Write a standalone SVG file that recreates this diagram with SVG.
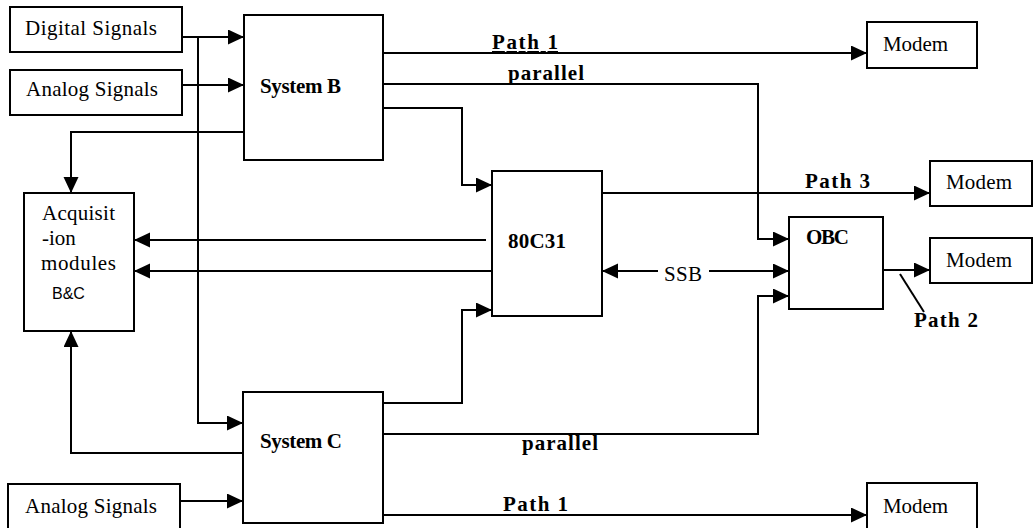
<svg xmlns="http://www.w3.org/2000/svg" width="1034" height="528" viewBox="0 0 1034 528">
<defs>
<style>
.box{fill:#fff;stroke:#000;stroke-width:2}
.ln{fill:none;stroke:#000;stroke-width:2}
.arr{marker-end:url(#ah)}
.t{font-family:"Liberation Serif","Times New Roman",serif;font-size:21px;fill:#000}
.b{font-weight:bold}
.s{font-family:"Liberation Sans",Arial,sans-serif;font-size:16px;fill:#000}
</style>
<marker id="ah" markerUnits="userSpaceOnUse" markerWidth="17" markerHeight="16" refX="16" refY="7.5" orient="auto">
<path d="M0,0 L16,7.5 L0,15 z" fill="#000"/>
</marker>
</defs>
<rect width="1034" height="528" fill="#fff"/>
<g id="connectors">
<path class="ln arr" d="M182,37 H244"/>
<path class="ln arr" d="M198,37 V423 H243"/>
<path class="ln arr" d="M182,85 H244"/>
<path class="ln arr" d="M244,132 H71 V193"/>
<path class="ln arr" d="M243,453 H71 V331"/>
<path class="ln arr" d="M486,240 H134"/>
<path class="ln arr" d="M492,271 H134"/>
<path class="ln arr" d="M383,108 H462 V185 H492"/>
<path class="ln arr" d="M383,403 H462 V310 H492"/>
<path class="ln arr" d="M383,53 H867"/>
<path class="ln arr" d="M383,84 H758 V239 H789"/>
<path class="ln arr" d="M383,434 H758 V296 H789"/>
<path class="ln arr" d="M602,193 H930"/>
<path class="ln arr" d="M658,271 H602"/>
<path class="ln arr" d="M709,271 H789"/>
<path class="ln arr" d="M883,270 H930"/>
<path class="ln" d="M900,274 L924,312"/>
<path class="ln arr" d="M383,515 H867"/>
<path class="ln arr" d="M180,501 H243"/>
<text class="t b" x="492" y="49" textLength="66" style="text-decoration:underline">Path 1</text>
<text class="t b" x="508" y="80" textLength="76">parallel</text>
<text class="t b" x="805" y="188" textLength="65">Path 3</text>
<text class="t" x="664" y="281" textLength="38">SSB</text>
<text class="t b" x="914" y="327" textLength="64">Path 2</text>
<text class="t b" x="522" y="450" textLength="76">parallel</text>
<text class="t b" x="503" y="511" textLength="65">Path 1</text>
</g>
<g id="digital-signals">
<rect class="box" x="10" y="7" width="172" height="45"/>
<text class="t" x="25" y="35" textLength="132">Digital Signals</text>
</g>
<g id="analog-signals-top">
<rect class="box" x="10" y="70" width="172" height="45"/>
<text class="t" x="26" y="96" textLength="132">Analog Signals</text>
</g>
<g id="system-b">
<rect class="box" x="244" y="15" width="139" height="145"/>
<text class="t b" x="260" y="93" textLength="81">System B</text>
</g>
<g id="acquisition">
<rect class="box" x="24" y="193" width="110" height="138"/>
<text class="t" x="42" y="220" textLength="73">Acquisit</text>
<text class="t" x="42" y="245">-ion</text>
<text class="t" x="41" y="270" textLength="75">modules</text>
<text class="s" x="52" y="299">B&amp;C</text>
</g>
<g id="cpu-80c31">
<rect class="box" x="492" y="171" width="110" height="145"/>
<text class="t b" x="508" y="248" textLength="58">80C31</text>
</g>
<g id="obc">
<rect class="box" x="789" y="217" width="94" height="92"/>
<text class="t b" x="806" y="244" textLength="43">OBC</text>
</g>
<g id="system-c">
<rect class="box" x="243" y="392" width="140" height="131"/>
<text class="t b" x="260" y="448" textLength="82">System C</text>
</g>
<g id="analog-signals-bottom">
<rect class="box" x="8" y="484" width="172" height="46"/>
<text class="t" x="25" y="513" textLength="132">Analog Signals</text>
</g>
<g id="modem-1">
<rect class="box" x="867" y="22" width="110" height="46"/>
<text class="t" x="883" y="51" textLength="65">Modem</text>
</g>
<g id="modem-3">
<rect class="box" x="930" y="161" width="102" height="45"/>
<text class="t" x="946" y="189" textLength="66">Modem</text>
</g>
<g id="modem-2">
<rect class="box" x="930" y="238" width="102" height="45"/>
<text class="t" x="946" y="267" textLength="66">Modem</text>
</g>
<g id="modem-4">
<rect class="box" x="867" y="483" width="110" height="46"/>
<text class="t" x="883" y="513" textLength="65">Modem</text>
</g>
</svg>
